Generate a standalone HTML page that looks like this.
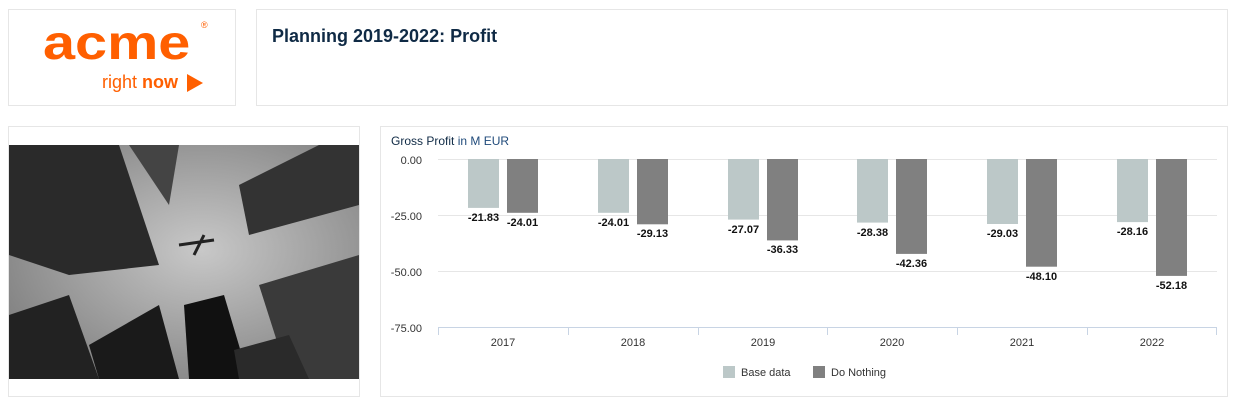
<!DOCTYPE html>
<html><head><style>
body{margin:0;width:1242px;height:407px;background:#fff;font-family:"Liberation Sans",sans-serif;position:relative;overflow:hidden}
.p{position:absolute;border:1px solid #e6e6e6;background:#fff;box-sizing:border-box}
</style></head><body>
<div class="p" style="left:8px;top:9px;width:228px;height:97px;overflow:hidden">
<div style="position:absolute;left:34px;top:6px;font-size:48px;font-weight:bold;color:#ff5f00;letter-spacing:0px;transform:scaleX(1.2);transform-origin:left">acme</div>
<div style="position:absolute;left:192px;top:10px;font-size:9px;color:#ff5f00">®</div>
<div style="position:absolute;left:93px;top:62px;font-size:18px;color:#ff5f00">right <b>now</b></div>
<svg style="position:absolute;left:178px;top:64px" width="16" height="18"><polygon points="0,0 16,9 0,18" fill="#ff5f00"/></svg>
</div>
<div class="p" style="left:256px;top:9px;width:972px;height:97px">
<div style="position:absolute;left:15px;top:16px;font-size:18px;font-weight:bold;color:#0f2a45">Planning 2019-2022: Profit</div>
</div>
<div class="p" style="left:8px;top:126px;width:352px;height:271px">
<svg style="position:absolute;left:0;top:18px" width="350" height="234">
<defs><radialGradient id="g" cx="0.55" cy="0.45" r="0.7"><stop offset="0" stop-color="#c8c8c8"/><stop offset="1" stop-color="#7a7a7a"/></radialGradient></defs>
<rect width="350" height="234" fill="url(#g)"/>
<polygon points="0,0 110,0 150,120 60,130 0,110" fill="#2a2a2a"/>
<polygon points="120,0 170,0 160,60" fill="#444"/>
<polygon points="230,40 310,0 350,0 350,60 240,90" fill="#333"/>
<polygon points="250,140 350,110 350,234 280,234" fill="#3a3a3a"/>
<polygon points="0,170 60,150 90,234 0,234" fill="#222"/>
<polygon points="80,200 150,160 170,234 90,234" fill="#1a1a1a"/>
<polygon points="175,160 215,150 240,234 180,234" fill="#111"/>
<polygon points="225,205 280,190 300,234 230,234" fill="#2a2a2a"/>
<path d="M170,100 L205,95 M185,110 L195,90" stroke="#222" stroke-width="3"/>
</svg>
</div>
<div class="p" style="left:380px;top:126px;width:848px;height:271px"></div>
<svg style="position:absolute;left:0;top:0" width="1242" height="407" font-family="Liberation Sans, sans-serif">
<text x="391" y="145" font-size="12" fill="#0f2a45">Gross Profit <tspan fill="#1f4a7a">in M EUR</tspan></text>
<g stroke="#e6e6e6"><line x1="438" x2="1217" y1="159.5" y2="159.5"/><line x1="438" x2="1217" y1="215.5" y2="215.5"/><line x1="438" x2="1217" y1="271.5" y2="271.5"/></g>
<line x1="438" x2="1217" y1="327.5" y2="327.5" stroke="#c8d4e4"/>
<g stroke="#c8d4e4"><line x1="438.5" x2="438.5" y1="327" y2="335"/><line x1="568.5" x2="568.5" y1="327" y2="335"/><line x1="698.5" x2="698.5" y1="327" y2="335"/><line x1="827.5" x2="827.5" y1="327" y2="335"/><line x1="957.5" x2="957.5" y1="327" y2="335"/><line x1="1087.5" x2="1087.5" y1="327" y2="335"/><line x1="1216.5" x2="1216.5" y1="327" y2="335"/></g>
<g font-size="11" fill="#333" text-anchor="end"><text x="422" y="164">0.00</text><text x="422" y="220">-25.00</text><text x="422" y="276">-50.00</text><text x="422" y="332">-75.00</text></g>
<g font-size="11" fill="#333" text-anchor="middle">
<text x="503" y="346">2017</text><text x="633" y="346">2018</text><text x="763" y="346">2019</text><text x="892" y="346">2020</text><text x="1022" y="346">2021</text><text x="1152" y="346">2022</text></g>
<rect x="723" y="366" width="12" height="12" fill="#bcc8c8"/><text x="741" y="376" font-size="11" fill="#333">Base data</text>
<rect x="813" y="366" width="12" height="12" fill="#808080"/><text x="831" y="376" font-size="11" fill="#333">Do Nothing</text>
<g font-size="11" font-weight="bold" fill="#111" text-anchor="middle">
<rect x="468" y="159" width="31" height="48.9" fill="#bcc8c8"/><text x="483.5" y="221">-21.83</text>
<rect x="507" y="159" width="31" height="53.8" fill="#808080"/><text x="522.5" y="226">-24.01</text>
<rect x="598" y="159" width="31" height="53.8" fill="#bcc8c8"/><text x="613.5" y="226">-24.01</text>
<rect x="637" y="159" width="31" height="65.3" fill="#808080"/><text x="652.5" y="237">-29.13</text>
<rect x="728" y="159" width="31" height="60.6" fill="#bcc8c8"/><text x="743.5" y="233">-27.07</text>
<rect x="767" y="159" width="31" height="81.4" fill="#808080"/><text x="782.5" y="253">-36.33</text>
<rect x="857" y="159" width="31" height="63.6" fill="#bcc8c8"/><text x="872.5" y="236">-28.38</text>
<rect x="896" y="159" width="31" height="94.9" fill="#808080"/><text x="911.5" y="267">-42.36</text>
<rect x="987" y="159" width="31" height="65.0" fill="#bcc8c8"/><text x="1002.5" y="237">-29.03</text>
<rect x="1026" y="159" width="31" height="107.7" fill="#808080"/><text x="1041.5" y="280">-48.10</text>
<rect x="1117" y="159" width="31" height="63.1" fill="#bcc8c8"/><text x="1132.5" y="235">-28.16</text>
<rect x="1156" y="159" width="31" height="116.9" fill="#808080"/><text x="1171.5" y="289">-52.18</text>
</g>
</svg>
</body></html>
